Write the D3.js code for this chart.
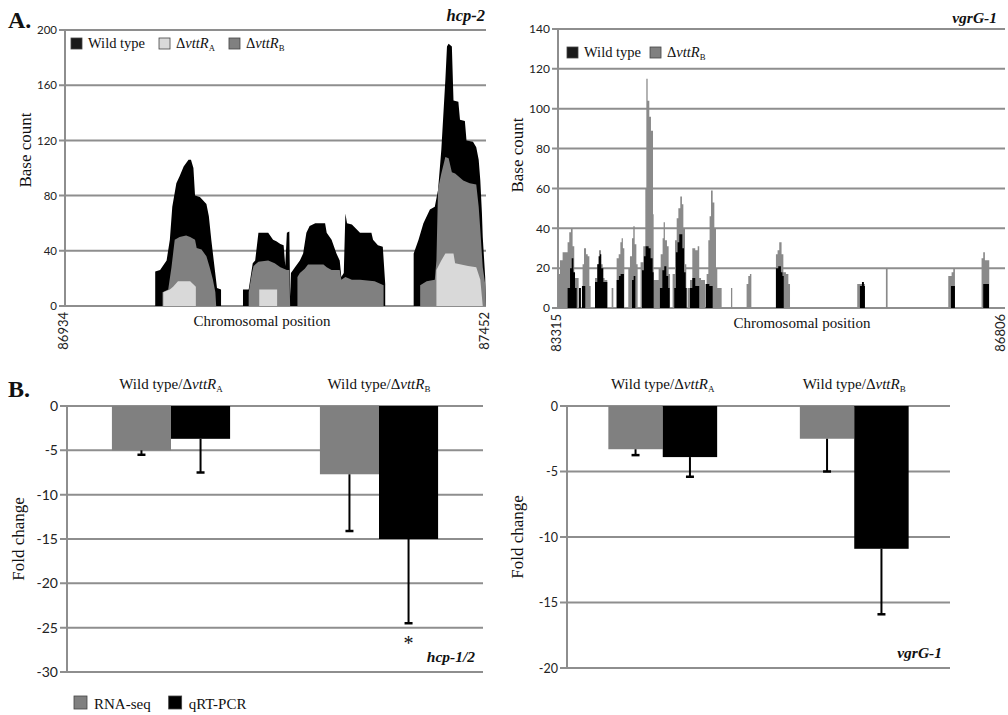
<!DOCTYPE html>
<html>
<head>
<meta charset="utf-8">
<script src="https://cdn.jsdelivr.net/npm/d3@7"></script>
<style>
body { margin: 0; background: #fff; }
svg { display: block; }
.serif { font-family: "Liberation Serif", "Times New Roman", serif; fill: #111; }
.num { font-family: Lato, "Open Sans", sans-serif; fill: #222; }
</style>
</head>
<body>
<svg id="fig" width="1008" height="715"></svg>
<script>
// ---- A. hcp-2 coverage (position, base count) ----
const hcp2Range = [86934, 87452];
const hcp2Ticks = [0, 40, 80, 120, 160, 200];
const hcp2WildType = [
    [86934, 0], [87045, 0], [87045, 25], [87051, 26], [87059, 33], [87063, 48], [87066, 72], [87071, 89],
    [87075, 94], [87080, 101], [87086, 106], [87089, 106], [87092, 100], [87094, 80], [87100, 79],
    [87108, 74], [87111, 65], [87114, 48], [87117, 33], [87121, 13], [87126, 12], [87126, 0],
    [87153, 0], [87153, 12], [87160, 12], [87165, 31], [87168, 33], [87172, 53], [87184, 53], [87190, 48],
    [87194, 47], [87199, 45], [87203, 44], [87205, 29], [87207, 53], [87210, 54], [87211, 7],
    [87212, 24], [87217, 28], [87223, 33], [87227, 38], [87231, 53], [87235, 58], [87242, 60], [87254, 60],
    [87256, 53], [87262, 48], [87268, 38], [87272, 33], [87274, 21], [87277, 24], [87279, 67], [87281, 60],
    [87287, 59], [87297, 53], [87311, 53], [87313, 48], [87319, 44], [87325, 43], [87328, 16], [87328, 0],
    [87363, 0], [87363, 38], [87369, 48], [87375, 60], [87383, 70], [87389, 72], [87393, 84], [87397, 113],
    [87402, 164], [87404, 188], [87406, 190], [87410, 188], [87412, 149], [87418, 148], [87420, 135],
    [87426, 134], [87428, 120], [87436, 119], [87440, 115], [87443, 106], [87445, 91], [87447, 67],
    [87448, 50], [87451, 21], [87452, 0]
];
const hcp2VttRB = [
    [86934, 0], [87054, 0], [87054, 10], [87061, 12], [87065, 28], [87069, 48], [87075, 50], [87083, 51],
    [87088, 50], [87094, 48], [87096, 42], [87102, 41], [87108, 36], [87112, 28], [87116, 19], [87119, 10],
    [87120, 0],
    [87160, 0], [87160, 10], [87164, 24], [87166, 29], [87172, 32], [87184, 33], [87192, 31], [87199, 28],
    [87207, 26], [87210, 26], [87211, 0],
    [87220, 0], [87220, 21], [87223, 24], [87229, 27], [87233, 30], [87252, 30], [87256, 28], [87262, 26],
    [87272, 26], [87274, 19], [87279, 21], [87287, 19], [87297, 19], [87315, 18], [87326, 15], [87326, 0],
    [87371, 0], [87371, 15], [87379, 18], [87389, 19], [87391, 33], [87393, 85], [87397, 96], [87402, 108],
    [87406, 107], [87410, 97], [87414, 96], [87424, 91], [87432, 89], [87440, 88], [87443, 72], [87445, 55],
    [87448, 28], [87451, 16], [87452, 0]
];
const hcp2VttRA = [
    [86934, 0], [87055, 0], [87055, 10], [87063, 12], [87067, 14], [87073, 18], [87088, 18], [87095, 14],
    [87095, 0],
    [87173, 0], [87173, 12], [87195, 12], [87195, 0],
    [87391, 0], [87391, 26], [87397, 33], [87402, 38], [87412, 38], [87414, 31], [87430, 29], [87440, 28],
    [87445, 19], [87448, 0], [87452, 0]
];

// ---- A. vgrG-1 coverage (step breakpoints: position, base count) ----
const vgrg1Range = [83315, 86806];
const vgrg1Ticks = [0, 20, 40, 60, 80, 100, 120, 140];
const vgrg1VttRB = [
    [83315, 17], [83330, 24], [83351, 28], [83390, 33], [83403, 38], [83416, 40], [83429, 31], [83442, 15], [83476, 0],
    [83507, 22], [83518, 30], [83534, 27], [83547, 26], [83560, 11], [83570, 0],
    [83604, 15], [83622, 22], [83635, 29], [83651, 22], [83664, 15], [83679, 14], [83700, 0],
    [83734, 10], [83747, 0],
    [83773, 25], [83789, 27], [83802, 33], [83812, 35], [83822, 30], [83833, 0],
    [83864, 20], [83877, 26], [83893, 35], [83903, 41], [83914, 32], [83927, 22], [83937, 0],
    [83960, 23], [83981, 31], [83997, 60], [84005, 115], [84015, 104], [84028, 96], [84041, 89], [84057, 47], [84062, 14],
    [84101, 20], [84117, 27], [84132, 35], [84140, 43], [84150, 34], [84166, 31], [84179, 17], [84190, 0],
    [84210, 17], [84229, 34], [84242, 45], [84255, 50], [84270, 56], [84283, 52], [84294, 40], [84307, 22], [84317, 0],
    [84327, 10], [84346, 14], [84364, 30], [84387, 29], [84406, 31], [84418, 15], [84432, 14], [84463, 0],
    [84476, 17], [84489, 34], [84499, 46], [84510, 59], [84523, 53], [84536, 40], [84549, 20], [84559, 10], [84593, 0],
    [84666, 10], [84676, 0],
    [84788, 12], [84801, 16], [84814, 17], [84825, 0],
    [85017, 27], [85030, 29], [85043, 33], [85061, 27], [85075, 18], [85095, 17], [85114, 12], [85127, 0],
    [85652, 12], [85712, 0],
    [85876, 20], [85889, 0],
    [86363, 16], [86389, 18], [86402, 20], [86415, 0],
    [86623, 25], [86636, 28], [86649, 24], [86675, 24], [86683, 0],
    [86806, 0]
];
const vgrg1WildType = [
    [83315, 0], [83390, 10], [83409, 20], [83422, 25], [83435, 18], [83448, 10], [83461, 0],
    [83479, 10], [83494, 0], [83502, 11], [83528, 0],
    [83604, 13], [83622, 22], [83632, 26], [83643, 27], [83653, 20], [83669, 13], [83700, 0],
    [83773, 14], [83791, 16], [83804, 17], [83830, 0],
    [83893, 14], [83906, 16], [83919, 0],
    [83971, 19], [83986, 26], [83999, 31], [84023, 30], [84038, 25], [84054, 18], [84062, 0],
    [84111, 10], [84130, 19], [84145, 21], [84161, 16], [84176, 10], [84187, 0],
    [84223, 10], [84236, 28], [84249, 33], [84262, 37], [84286, 30], [84299, 18], [84312, 10], [84320, 0],
    [84346, 10], [84364, 15], [84387, 11], [84418, 0],
    [84468, 12], [84497, 11], [84523, 0],
    [85017, 20], [85035, 21], [85056, 18], [85068, 16], [85078, 0],
    [85673, 11], [85689, 13], [85704, 11], [85712, 0],
    [86384, 11], [86415, 0],
    [86636, 12], [86675, 12], [86681, 0],
    [86806, 0]
];

// ---- B. fold change ----
const foldGroups = ["A", "B"]; // Wild type/ΔvttR_A, Wild type/ΔvttR_B
const foldMethods = ["RNA-seq", "qRT-PCR"];
const hcp12Rna = [-5, -7.7];
const hcp12Qpcr = [-3.7, -15];
const hcp12RnaErr = [0.5, 6.4];
const hcp12QpcrErr = [3.8, 9.5];
const hcp12Ticks = [0, -5, -10, -15, -20, -25, -30];
const vgrg1Rna = [-3.3, -2.5];
const vgrg1Qpcr = [-3.9, -10.9];
const vgrg1RnaErr = [0.45, 2.5];
const vgrg1QpcrErr = [1.5, 5.0];
const vgrg1FoldTicks = [0, -5, -10, -15, -20];

const gridColor = "#8e8e8e";
const svg = d3.select("#fig");

// "prefix ΔvttR" with subscript
function addMutant(text, prefix, sub, size) {
    text.append("tspan").text(prefix + "Δ");
    text.append("tspan").attr("font-style", "italic").text("vttR");
    text.append("tspan")
        .attr("font-size", size * 0.6 + "px")
        .attr("dy", size * 0.2)
        .text(sub);
}

function yAxisLines(g, y, ticks, left, right, tickFont, tickLen) {
    g.append("g")
        .selectAll("line")
        .data(ticks)
        .enter()
        .append("line")
        .attr("x1", left - tickLen)
        .attr("x2", right)
        .attr("y1", (d) => y(d))
        .attr("y2", (d) => y(d))
        .attr("stroke", gridColor)
        .attr("stroke-width", 2);
    g.append("line")
        .attr("x1", left)
        .attr("x2", left)
        .attr("y1", y(d3.min(ticks)) + 1)
        .attr("y2", y(d3.max(ticks)) - 1)
        .attr("stroke", gridColor)
        .attr("stroke-width", 2);
    g.append("g")
        .selectAll("text")
        .data(ticks)
        .enter()
        .append("text")
        .attr("class", "num")
        .attr("x", left - tickLen - 2)
        .attr("y", (d) => y(d))
        .attr("dy", "0.36em")
        .attr("text-anchor", "end")
        .attr("font-size", tickFont + "px")
        .text((d) => d);
}

function coveragePanel(o) {
    const g = svg.append("g");
    const x = d3.scaleLinear().domain(o.range).range([o.left, o.right]);
    const y = d3.scaleLinear().domain([0, d3.max(o.ticks)]).range([o.bottom, o.top]);

    yAxisLines(g, y, o.ticks, o.left, o.right, o.tickFont, 6);

    const area = d3
        .area()
        .curve(o.curve)
        .x((d) => x(d[0]))
        .y0(y(0))
        .y1((d) => y(d[1]));

    o.series.forEach((s) => {
        g.append("path").attr("d", area(s.data)).attr("fill", s.color);
    });

    // rotated end positions (kept inside the page)
    g.selectAll(".pos")
        .data(o.range)
        .enter()
        .append("text")
        .attr("class", "num")
        .attr("font-size", "13px")
        .attr("text-anchor", "end")
        .attr("transform", (d) => `translate(${Math.min(x(d) + 2.5, 1005)},${o.bottom + 6}) rotate(-90)`)
        .text((d) => d);

    g.append("text")
        .attr("class", "serif")
        .attr("font-size", "15px")
        .attr("text-anchor", "middle")
        .attr("x", o.xLabelX)
        .attr("y", o.bottom + 20)
        .text("Chromosomal position");

    g.append("text")
        .attr("class", "serif")
        .attr("font-size", "17px")
        .attr("text-anchor", "middle")
        .attr("transform", `translate(${o.yLabelX},${o.yLabelY}) rotate(-90)`)
        .text("Base count");

    g.append("text")
        .attr("class", "serif")
        .attr("font-size", o.titleSize + "px")
        .attr("font-weight", "bold")
        .attr("font-style", "italic")
        .attr("text-anchor", "end")
        .attr("x", o.titleX)
        .attr("y", o.titleY)
        .text(o.title);

    // legend
    let lx = o.legendX;
    o.legend.forEach((item) => {
        g.append("rect")
            .attr("x", lx)
            .attr("y", o.legendY - 10)
            .attr("width", 11)
            .attr("height", 11)
            .attr("fill", item.color)
            .attr("stroke", "#444")
            .attr("stroke-width", 0.8);
        const t = g
            .append("text")
            .attr("class", "serif")
            .attr("font-size", "14.5px")
            .attr("x", lx + 17)
            .attr("y", o.legendY);
        if (item.sub) addMutant(t, "", item.sub, 14.5);
        else t.text(item.label);
        lx += 17 + t.node().getComputedTextLength() + o.legendGap;
    });
}

function foldPanel(o) {
    const g = svg.append("g");
    const x0 = d3.scaleBand().domain(foldGroups).range([o.left, o.right]);
    const x1 = d3
        .scaleBand()
        .domain(foldMethods)
        .range([0, x0.bandwidth()])
        .paddingInner(0)
        .paddingOuter(0.76);
    const y = d3.scaleLinear().domain([d3.min(o.ticks), 0]).range([o.bottom, o.top]);

    yAxisLines(g, y, o.ticks, o.left, o.right, o.tickFont, 7);

    const rows = [];
    foldGroups.forEach((grp, i) => {
        rows.push({ grp, m: "RNA-seq", v: o.rna[i], e: o.rnaErr[i], color: "#808080" });
        rows.push({ grp, m: "qRT-PCR", v: o.qpcr[i], e: o.qpcrErr[i], color: "#000" });
    });

    g.selectAll(".bar")
        .data(rows)
        .enter()
        .append("rect")
        .attr("x", (d) => x0(d.grp) + x1(d.m))
        .attr("y", y(0))
        .attr("width", x1.bandwidth())
        .attr("height", (d) => y(d.v) - y(0))
        .attr("fill", (d) => d.color);

    const cx = (d) => x0(d.grp) + x1(d.m) + x1.bandwidth() / 2;
    g.selectAll(".err")
        .data(rows)
        .enter()
        .append("line")
        .attr("x1", cx)
        .attr("x2", cx)
        .attr("y1", (d) => y(d.v))
        .attr("y2", (d) => y(d.v - d.e))
        .attr("stroke", "#000")
        .attr("stroke-width", 2);
    g.selectAll(".cap")
        .data(rows)
        .enter()
        .append("line")
        .attr("x1", (d) => cx(d) - 4)
        .attr("x2", (d) => cx(d) + 4)
        .attr("y1", (d) => y(d.v - d.e))
        .attr("y2", (d) => y(d.v - d.e))
        .attr("stroke", "#000")
        .attr("stroke-width", 2.5);

    // group labels
    foldGroups.forEach((grp) => {
        const t = g
            .append("text")
            .attr("class", "serif")
            .attr("font-size", "15px")
            .attr("text-anchor", "middle")
            .attr("x", x0(grp) + x0.bandwidth() / 2)
            .attr("y", o.top - 17);
        addMutant(t, "Wild type/", grp, 15);
    });

    if (o.star) {
        const d = rows.find((r) => r.grp === o.star[0] && r.m === o.star[1]);
        g.append("text")
            .attr("class", "serif")
            .attr("font-size", "20px")
            .attr("text-anchor", "middle")
            .attr("x", cx(d))
            .attr("y", y(d.v - d.e) + 27)
            .text("*");
    }

    g.append("text")
        .attr("class", "serif")
        .attr("font-size", "17px")
        .attr("text-anchor", "middle")
        .attr("transform", `translate(${o.yLabelX},${(o.top + o.bottom) / 2}) rotate(-90)`)
        .text("Fold change");

    g.append("text")
        .attr("class", "serif")
        .attr("font-size", "15.5px")
        .attr("font-weight", "bold")
        .attr("font-style", "italic")
        .attr("text-anchor", "end")
        .attr("x", o.right - 8)
        .attr("y", o.bottom - 10)
        .text(o.title);
}

coveragePanel({
    range: hcp2Range, ticks: hcp2Ticks, left: 65, right: 486, top: 30, bottom: 306,
    curve: d3.curveLinear, tickFont: 11.5,
    series: [
        { data: hcp2WildType, color: "#000" },
        { data: hcp2VttRB, color: "#808080" },
        { data: hcp2VttRA, color: "#d9d9d9" }
    ],
    xLabelX: 262, yLabelX: 31, yLabelY: 150,
    title: "hcp-2", titleSize: 16.5, titleX: 485, titleY: 21,
    legendX: 71, legendY: 48, legendGap: 14,
    legend: [
        { label: "Wild type", color: "#1a1a1a" },
        { sub: "A", color: "#d9d9d9" },
        { sub: "B", color: "#808080" }
    ]
});

coveragePanel({
    range: vgrg1Range, ticks: vgrg1Ticks, left: 558, right: 1005, top: 29, bottom: 308,
    curve: d3.curveStepAfter, tickFont: 12,
    series: [
        { data: vgrg1VttRB, color: "#8a8a8a" },
        { data: vgrg1WildType, color: "#000" }
    ],
    xLabelX: 802, yLabelX: 523, yLabelY: 155,
    title: "vgrG-1", titleSize: 15.5, titleX: 997, titleY: 23,
    legendX: 567, legendY: 57, legendGap: 9,
    legend: [
        { label: "Wild type", color: "#1a1a1a" },
        { sub: "B", color: "#808080" }
    ]
});

foldPanel({
    left: 67, right: 483, top: 406, bottom: 672, ticks: hcp12Ticks, tickFont: 14,
    rna: hcp12Rna, qpcr: hcp12Qpcr, rnaErr: hcp12RnaErr, qpcrErr: hcp12QpcrErr,
    star: ["B", "qRT-PCR"], yLabelX: 24, title: "hcp-1/2"
});

foldPanel({
    left: 567, right: 950, top: 406, bottom: 668, ticks: vgrg1FoldTicks, tickFont: 12.5,
    rna: vgrg1Rna, qpcr: vgrg1Qpcr, rnaErr: vgrg1RnaErr, qpcrErr: vgrg1QpcrErr,
    yLabelX: 523, title: "vgrG-1"
});

// panel letters
svg.append("text").attr("class", "serif").attr("font-size", "24px").attr("font-weight", "bold")
    .attr("x", 8).attr("y", 28).text("A.");
svg.append("text").attr("class", "serif").attr("font-size", "24px").attr("font-weight", "bold")
    .attr("x", 8).attr("y", 397).text("B.");

// method legend
const methodColors = ["#808080", "#000"];
let mx = 74;
foldMethods.forEach((m, i) => {
    svg.append("rect")
        .attr("x", mx).attr("y", 696).attr("width", 13).attr("height", 13)
        .attr("fill", methodColors[i]).attr("stroke", "#444").attr("stroke-width", 0.8);
    const t = svg.append("text").attr("class", "serif").attr("font-size", "15px")
        .attr("x", mx + 20).attr("y", 709).text(m);
    mx += 20 + t.node().getComputedTextLength() + 18;
});
</script>
</body>
</html>
